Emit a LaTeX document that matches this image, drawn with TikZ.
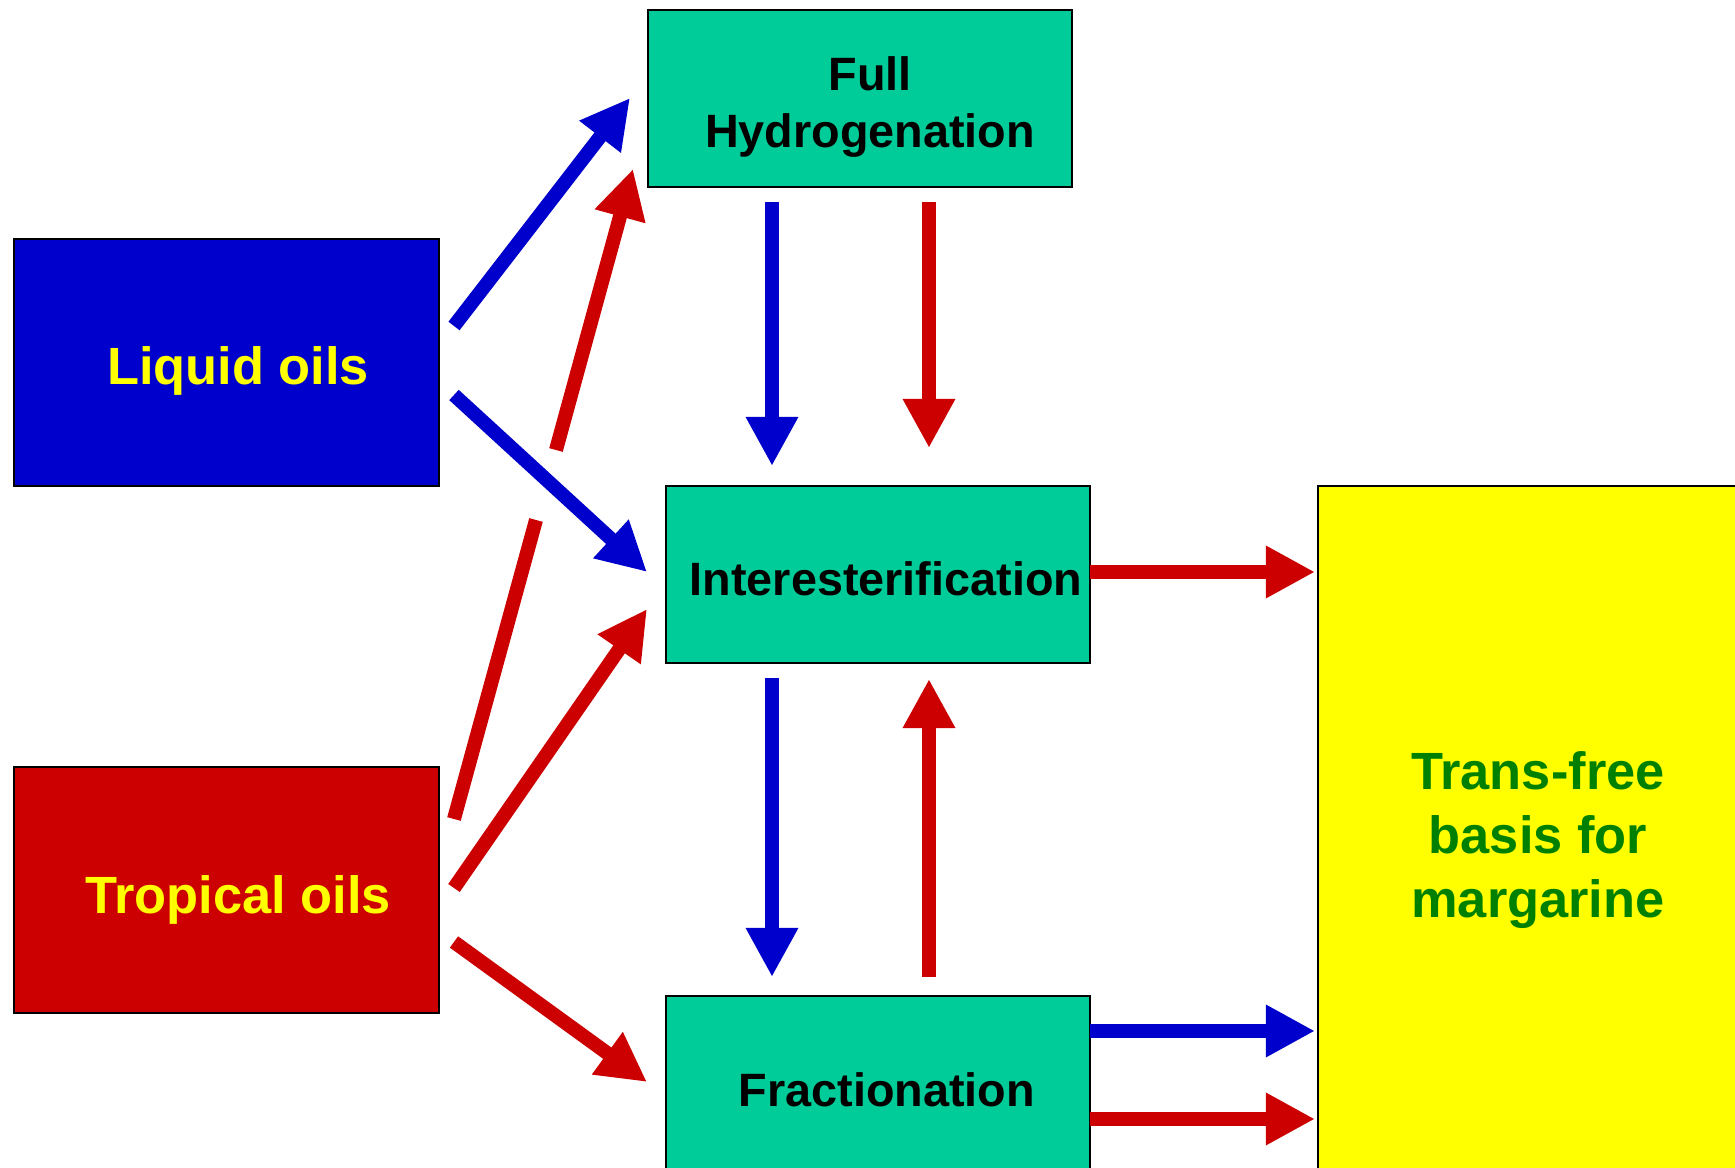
\documentclass[tikz,border=0pt]{standalone}
\usepackage{fontspec}
\setmainfont{Liberation Sans}
\usetikzlibrary{arrows.meta}
\definecolor{cblue}{RGB}{0,0,204}
\definecolor{cred}{RGB}{204,0,0}
\definecolor{cteal}{RGB}{0,204,153}
\definecolor{cyel}{RGB}{255,255,0}
\definecolor{cgreen}{RGB}{0,128,0}
\begin{document}
\begin{tikzpicture}[x=0.01cm,y=-0.01cm,
  box/.style={draw=black,line width=0.02cm,inner sep=0pt,anchor=north west},
  arr/.style={line width=0.14cm,-{Triangle[length=0.49cm,width=0.49cm]}},
  seg/.style={line width=0.14cm},
  barr/.style={arr,draw=cblue},
  rarr/.style={arr,draw=cred},
  bigtxt/.style={font=\fontsize{14.9}{18.2}\selectfont\bfseries,align=center},
  smalltxt/.style={font=\fontsize{13.3}{16.1}\selectfont\bfseries,align=center,text=black}]
\useasboundingbox (0,0) rectangle (1735,1168);
\clip (0,0) rectangle (1735,1168);
% boxes
\node[box,fill=cteal,minimum width=4.24cm,minimum height=1.77cm] (fh) at (647,9) {};
\node[box,fill=cblue,minimum width=4.25cm,minimum height=2.47cm] (liq) at (13,238) {};
\node[box,fill=cteal,minimum width=4.24cm,minimum height=1.77cm] (inter) at (665,485) {};
\node[box,fill=cred,minimum width=4.25cm,minimum height=2.46cm] (trop) at (13,766) {};
\node[box,fill=cteal,minimum width=4.24cm,minimum height=2.6cm] (frac) at (665,995) {};
\node[box,fill=cyel,minimum width=5cm,minimum height=8cm] (trans) at (1317,485) {};
% texts
\node[smalltxt] (tfh) at (870,107) {Full\\Hydrogenation};
\node[bigtxt,text=cyel] (tliq) at (238,371) {Liquid oils};
\node[smalltxt] (tinter) at (886,579) {Interesterification};
\node[bigtxt,text=cyel] (ttrop) at (238,900) {Tropical oils};
\node[smalltxt] (tfrac) at (887,1090) {Fractionation};
\node[bigtxt,text=cgreen] (ttrans) at (1538,840) {Trans-free\\basis for\\margarine};
% connector end points
\coordinate (b1s) at (454,326); \coordinate (b1e) at (630,98);
\coordinate (r1s) at (454,819); \coordinate (r1m) at (536,520);
\coordinate (r1n) at (556,450); \coordinate (r1e) at (633,169);
\coordinate (b2s) at (454,395); \coordinate (b2e) at (647,572);
\coordinate (r2s) at (454,888); \coordinate (r2e) at (647,609);
\coordinate (r3s) at (454,942); \coordinate (r3e) at (647,1082);
\coordinate (b3s) at (772,202); \coordinate (b3e) at (772,466);
\coordinate (r4s) at (929,202); \coordinate (r4e) at (929,448);
\coordinate (b4s) at (772,678); \coordinate (b4e) at (772,977);
\coordinate (r5s) at (929,977); \coordinate (r5e) at (929,679);
\coordinate (r6s) at (1090,572); \coordinate (r6e) at (1315,572);
\coordinate (b5s) at (1090,1031); \coordinate (b5e) at (1315,1031);
\coordinate (r7s) at (1090,1119); \coordinate (r7e) at (1315,1119);
% connectors
\draw[barr] (b1s) -- (b1e);
\draw[seg,draw=cred] (r1s) -- (r1m);
\draw[rarr] (r1n) -- (r1e);
\draw[barr] (b2s) -- (b2e);
\draw[rarr] (r2s) -- (r2e);
\draw[rarr] (r3s) -- (r3e);
\draw[barr] (b3s) -- (b3e);
\draw[rarr] (r4s) -- (r4e);
\draw[barr] (b4s) -- (b4e);
\draw[rarr] (r5s) -- (r5e);
\draw[rarr] (r6s) -- (r6e);
\draw[barr] (b5s) -- (b5e);
\draw[rarr] (r7s) -- (r7e);
\end{tikzpicture}
\end{document}
